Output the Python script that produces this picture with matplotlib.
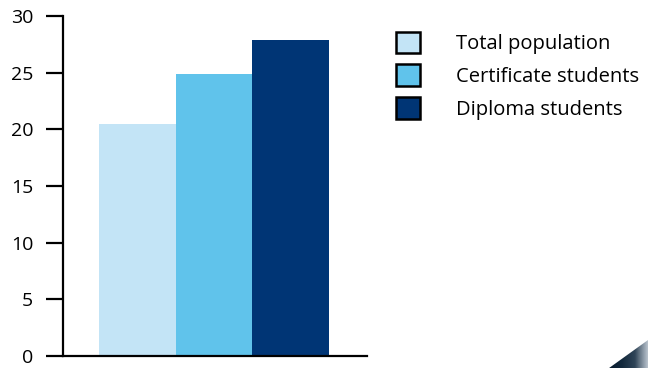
import numpy as np
import matplotlib.pyplot as plt
from matplotlib.patches import Patch, Polygon
from matplotlib.colors import LinearSegmentedColormap

plt.rcParams['font.family'] = ['Open Sans', 'DejaVu Sans']

groups = ['Total population', 'Certificate students', 'Diploma students']
values = [20.5, 24.9, 27.9]
colors = ['#c3e4f6', '#60c3eb', '#003575']
yticks = [0, 5, 10, 15, 20, 25, 30]

fig = plt.figure(figsize=(6.48, 3.68), dpi=100)
ax = fig.add_axes([0.0965, 0.0326, 0.470, 0.924])

x = np.arange(len(values))
ax.bar(x, values, width=1.0, color=colors, linewidth=0)

ax.set_xlim(-0.974, 2.994)
ax.set_ylim(0, 30)
ax.set_yticks(yticks)
ax.set_xticks([])
for s in ['top', 'right']:
    ax.spines[s].set_visible(False)
for s in ['left', 'bottom']:
    ax.spines[s].set_linewidth(1.6)
    ax.spines[s].set_color('black')
ax.tick_params(axis='y', length=12, width=1.6, labelsize=14, pad=9, colors='black')

# legend with outlined squares
handles = [Patch(facecolor=c, edgecolor='black', linewidth=1.8) for c in colors]
ax.legend(handles, groups, loc='upper left', bbox_to_anchor=(1.075, 0.972),
          frameon=False, fontsize=14.5, handlelength=1.19, handleheight=1.25,
          handletextpad=1.8, labelspacing=0.52, borderpad=0.3, borderaxespad=0.0)

# dark decorative corner at bottom right
cmap = LinearSegmentedColormap.from_list('corner', ['#0a1c2e', '#13293d', '#2f4457', '#b8c2cc'])
cax = fig.add_axes([0.94, 0.0, 0.06, 0.08])
cax.set_axis_off()
grad = np.linspace(0, 1, 64)[None, :].repeat(16, axis=0)
im = cax.imshow(grad, cmap=cmap, extent=[0, 1, 0, 1], aspect='auto')
tri = Polygon([[0.0, 0.0], [1.0, 0.95], [1.0, 0.0]], closed=True, transform=cax.transData)
im.set_clip_path(tri)
cax.set_xlim(0, 1)
cax.set_ylim(0, 1)

fig.savefig('out.png', dpi=100)
